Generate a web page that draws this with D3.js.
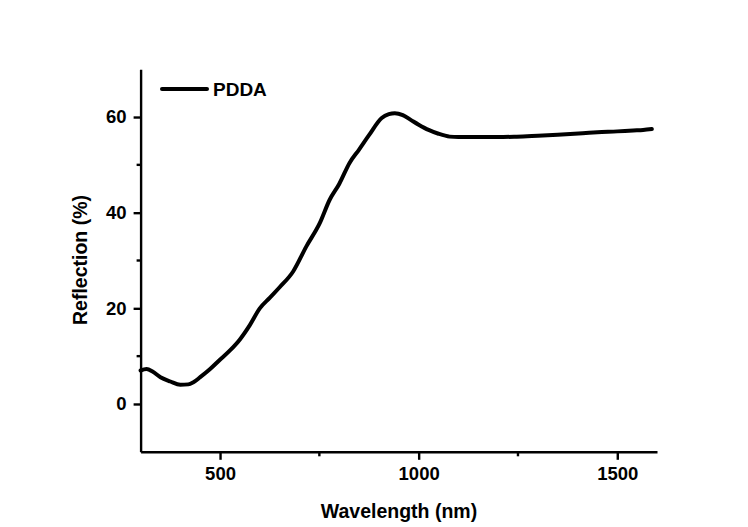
<!DOCTYPE html>
<html>
<head>
<meta charset="utf-8">
<script src="https://cdn.jsdelivr.net/npm/d3@7"></script>
<style>
  html, body { margin: 0; padding: 0; background: #fff; }
  svg { display: block; }
  text { font-family: "Liberation Sans", Arial, sans-serif; font-weight: bold; fill: #000; }
</style>
</head>
<body>
<svg id="chart" width="748" height="527"></svg>
<script>
// Data
const wavelength = [300, 315, 330, 350, 375, 400, 420, 432, 450, 475, 499, 525, 549, 575, 600, 625, 650, 684, 717, 751, 776, 800, 826, 850, 875, 907, 925, 940, 960, 980, 1000, 1025, 1050, 1078, 1100, 1150, 1200, 1247, 1300, 1350, 1413, 1450, 1500, 1540, 1565, 1587];
const reflection = [7.0, 7.3, 6.8, 5.6, 4.7, 4.0, 4.1, 4.5, 5.6, 7.3, 9.2, 11.2, 13.4, 16.5, 20.0, 22.2, 24.4, 27.7, 32.9, 37.8, 42.7, 46.0, 50.4, 53.2, 56.2, 59.8, 60.6, 60.8, 60.4, 59.4, 58.4, 57.3, 56.5, 55.9, 55.8, 55.8, 55.8, 55.9, 56.1, 56.3, 56.6, 56.8, 57.0, 57.2, 57.3, 57.5];
const seriesName = "PDDA";
const xTicks = [500, 1000, 1500];
const xMinorTicks = [750, 1250];
const yTicks = [0, 20, 40, 60];
const yMinorTicks = [10, 30, 50];
const xTitle = "Wavelength (nm)";
const yTitle = "Reflection (%)";

const svg = d3.select("#chart");
const x = d3.scaleLinear().domain([300, 1600]).range([140.6, 657]);
const y = d3.scaleLinear().domain([-10, 70]).range([451.8, 69.2]);

const axisW = 2.4;

// X axis
const gx = svg.append("g").attr("transform", `translate(0,${y(-10)})`);
gx.call(d3.axisBottom(x).tickValues(xTicks).tickSize(8).tickPadding(7).tickSizeOuter(0).tickFormat(d3.format("d")));
gx.select(".domain").attr("stroke", "#000").attr("stroke-width", axisW);
gx.selectAll(".tick line").attr("stroke", "#000").attr("stroke-width", axisW);
gx.selectAll(".tick text").style("font-size", "18.5px").style("font-family", "Liberation Sans, Arial, sans-serif").style("font-weight", "bold").attr("fill", "#000");
gx.selectAll(".minor").data(xMinorTicks).enter().append("line")
  .attr("x1", d => x(d)).attr("x2", d => x(d)).attr("y1", 0).attr("y2", 4.5)
  .attr("stroke", "#000").attr("stroke-width", axisW);

// Y axis
const gy = svg.append("g").attr("transform", `translate(${x(300)},0)`);
gy.call(d3.axisLeft(y).tickValues(yTicks).tickSize(7).tickPadding(7).tickSizeOuter(0).tickFormat(d3.format("d")));
gy.select(".domain").attr("stroke", "#000").attr("stroke-width", axisW);
gy.selectAll(".tick line").attr("stroke", "#000").attr("stroke-width", axisW);
gy.selectAll(".tick text").style("font-size", "18.5px").style("font-family", "Liberation Sans, Arial, sans-serif").style("font-weight", "bold").attr("fill", "#000");
gy.selectAll(".minor").data(yMinorTicks).enter().append("line")
  .attr("x1", 0).attr("x2", -4).attr("y1", d => y(d)).attr("y2", d => y(d))
  .attr("stroke", "#000").attr("stroke-width", axisW);

// Curve
const pts = wavelength.map((w, i) => [w, reflection[i]]);
const line = d3.line().x(d => x(d[0])).y(d => y(d[1])).curve(d3.curveMonotoneX);
svg.append("path").datum(pts).attr("d", line)
  .attr("fill", "none").attr("stroke", "#000").attr("stroke-width", 4)
  .attr("stroke-linejoin", "round").attr("stroke-linecap", "round");

// Legend
svg.append("line").attr("x1", 162).attr("x2", 207).attr("y1", 89).attr("y2", 89)
  .attr("stroke", "#000").attr("stroke-width", 4).attr("stroke-linecap", "round");
svg.append("text").attr("x", 213).attr("y", 96).style("font-size", "19px").text(seriesName);

// Axis titles
svg.append("text").attr("x", 399).attr("y", 518).attr("text-anchor", "middle")
  .style("font-size", "19.5px").text(xTitle);
svg.append("text").attr("transform", "translate(87,260) rotate(-90)").attr("text-anchor", "middle")
  .style("font-size", "19.5px").text(yTitle);
</script>
</body>
</html>
